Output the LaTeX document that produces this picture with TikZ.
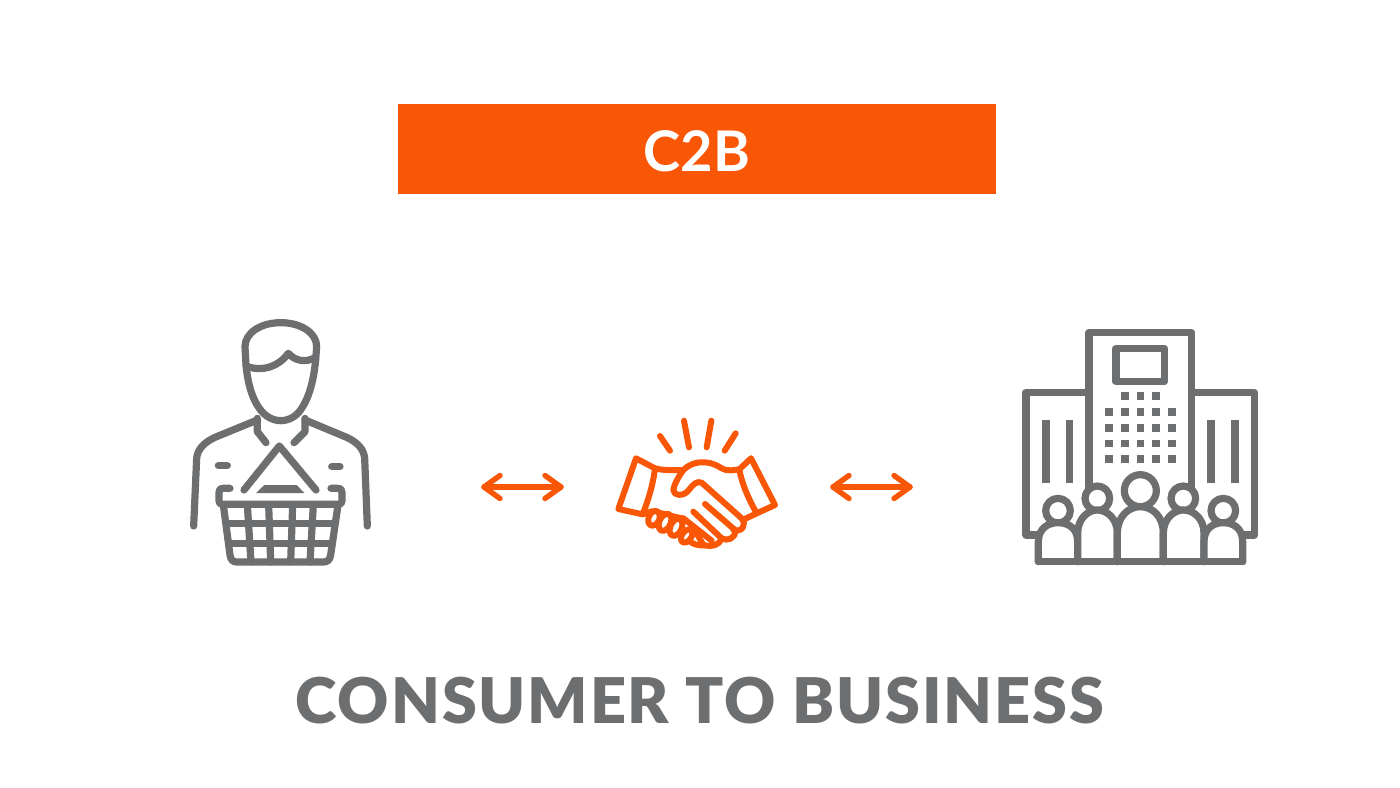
\documentclass[tikz,border=0pt]{standalone}
\usepackage{fontspec}
\setmainfont{Lato}
\newfontfamily\capfont{Lato Black}[LetterSpace=2.9]
\usetikzlibrary{arrows.meta}
\definecolor{brandorange}{HTML}{F95606}
\definecolor{icongray}{HTML}{6D6E70}
\tikzset{
  grayline/.style={draw=icongray,line width=7.2pt,line cap=round,line join=round},
  orangeline/.style={draw=brandorange,line width=6pt,line cap=round,line join=round},
  twoway/.style={draw=brandorange,line width=5.4pt,line cap=round,line join=round},
  zoomed/.style={x=0.33333pt,y=-0.33333pt}
}
\begin{document}
\begin{tikzpicture}[x=1pt,y=-1pt]
\useasboundingbox (0,0) rectangle (1400,787);
\fill[white] (0,0) rectangle (1400,787);
% banner
\node[fill=brandorange,minimum width=598pt,minimum height=90pt,inner sep=0pt,anchor=north west] (banner) at (398,104) {};
\node[text=white,font=\fontsize{56}{56}\selectfont\bfseries] (bannertext) at (697,151) {C2B};
\node[text=icongray,font=\fontsize{63}{63}\selectfont\capfont] (caption) at (700,701) {CONSUMER TO BUSINESS};
% consumer
\begin{scope}[shift={(170,310)},zoomed]
\draw[grayline] (228,165) -- (225,110) .. controls (225,70) and (270,38) .. (332,38) .. controls (395,38) and (440,70) .. (440,110) -- (437,150);
\draw[grayline] (232,170) .. controls (280,185) and (325,170) .. (355,130) .. controls (375,152) and (405,160) .. (437,142);
\draw[grayline] (228,165) .. controls (234,230) and (250,270) .. (268,295) .. controls (285,320) and (310,332) .. (332,332) .. controls (355,332) and (380,320) .. (395,295) .. controls (415,265) and (430,220) .. (437,150);
\draw[grayline] (262,325) -- (262,365) -- (288,398);
\draw[grayline] (405,325) -- (405,365) -- (372,398);
\draw[grayline] (262,330) -- (135,382) .. controls (100,398) and (82,420) .. (80,445) -- (71,648);
\draw[grayline] (405,330) -- (530,382) .. controls (565,398) and (582,420) .. (584,445) -- (592,648);
\draw[grayline] (145,467) -- (172,467);
\draw[grayline] (485,470) -- (510,470);
\draw[grayline] (222,540) -- (328,408) -- (438,540);
\fill[icongray] (258,549) -- (283,525) -- (380,525) -- (403,549) -- cycle;
\draw[grayline] (180,535) -- (160,535) .. controls (150,535) and (147,540) .. (147,548) -- (147,572) .. controls (147,580) and (150,583) .. (158,583) -- (505,583) .. controls (513,583) and (516,580) .. (516,572) -- (516,548) .. controls (516,540) and (513,535) .. (503,535) -- (483,535);
\draw[grayline] (160,585) -- (180,735) .. controls (182,750) and (190,756) .. (200,756) -- (460,756) .. controls (472,756) and (480,750) .. (482,735) -- (504,585);
\draw[grayline] (232,585) -- (243,756);
\draw[grayline] (296,585) -- (302,756);
\draw[grayline] (368,585) -- (362,756);
\draw[grayline] (430,585) -- (420,756);
\draw[grayline] (170,640) -- (494,640);
\draw[grayline] (178,700) -- (486,700);
\end{scope}
% arrows
\coordinate (leftA) at (484,487);
\coordinate (leftB) at (561,487);
\coordinate (rightA) at (833,487);
\coordinate (rightB) at (910,487);
\draw[twoway] (leftA) -- (leftB);
\draw[twoway] (rightA) -- (rightB);
\foreach \tipname/\dir in {leftA/1,rightA/1,leftB/-1,rightB/-1}
  \draw[twoway] ([shift={(\dir*16,-11.5)}]\tipname) -- (\tipname) -- ([shift={(\dir*16,11.5)}]\tipname);
% handshake
\begin{scope}[shift={(470,410)},zoomed]
\draw[orangeline] (570,78) -- (600,122);
\draw[orangeline] (642,32) -- (657,112);
\draw[orangeline] (724,32) -- (710,112);
\draw[orangeline] (797,70) -- (764,122);
\draw[orangeline] (498,145) -- (445,297) -- (518,313) .. controls (535,270) and (550,220) .. (555,175) -- (498,145);
\draw[orangeline] (843,145) -- (915,285) -- (860,310) .. controls (835,265) and (815,220) .. (808,178) -- (843,145);
\draw[orangeline] (555,175) .. controls (580,182) and (610,180) .. (640,180) .. controls (665,155) and (710,145) .. (755,175) .. controls (775,185) and (790,180) .. (808,178);
\draw[orangeline] (640,180) .. controls (625,200) and (612,225) .. (610,240) .. controls (610,258) and (640,260) .. (655,242) .. controls (670,222) and (680,212) .. (695,218) -- (815,325) .. controls (832,345) and (815,368) .. (790,360);
\draw[orangeline] (705,282) -- (795,360) .. controls (800,385) and (770,395) .. (755,385) -- (670,305);
\draw[orangeline] (755,385) .. controls (750,405) and (725,412) .. (700,405) -- (680,370);
\draw[orangeline] (818,330) -- (860,310);
\draw[orangeline] (518,313) -- (545,304) .. controls (575,308) and (610,322) .. (640,325) -- (725,392);
\draw[orangeline] (655,390) .. controls (665,402) and (685,408) .. (705,406);
\draw[orangeline,fill=white] (650,378) ellipse [x radius=14,y radius=22,rotate=-35];
\draw[orangeline,fill=white] (618,352) ellipse [x radius=17,y radius=27,rotate=-25];
\draw[orangeline,fill=white] (585,337) ellipse [x radius=17,y radius=27,rotate=-25];
\draw[orangeline,fill=white] (552,325) ellipse [x radius=16,y radius=23,rotate=-25];
\end{scope}
% business
\begin{scope}[shift={(1010,320)},zoomed]
\draw[grayline] (237,500) -- (237,38) -- (545,38) -- (545,500);
\draw[grayline] (237,217) -- (48,217) -- (48,645) -- (85,645);
\draw[grayline] (545,217) -- (733,217) -- (733,645) -- (700,645);
\draw[grayline] (318,85) rectangle (463,185);
\foreach \y in {228} \foreach \x in {344,391,438} \fill[icongray] (\x-11.5,\y-11.5) rectangle (\x+11.5,\y+11.5);
\foreach \y in {276,323,370,417} \foreach \x in {296,344,391,438,486} \fill[icongray] (\x-11.5,\y-11.5) rectangle (\x+11.5,\y+11.5);
\fill[icongray] (97,300) rectangle (120,490);
\fill[icongray] (167,300) rectangle (190,490);
\fill[icongray] (592,300) rectangle (615,490);
\fill[icongray] (663,300) rectangle (686,490);
\draw[grayline,fill=white] (391,512) circle (48);
\draw[grayline,fill=white] (262,535) circle (37);
\draw[grayline,fill=white] (520,535) circle (37);
\draw[grayline,fill=white] (144,572) circle (37);
\draw[grayline,fill=white] (640,572) circle (37);
\draw[grayline,fill=white] (85,725) -- (85,665) .. controls (85,625) and (115,608) .. (144,608) .. controls (175,608) and (203,625) .. (203,665) -- (203,725);
\draw[grayline,fill=white] (203,725) -- (203,640) .. controls (203,595) and (235,570) .. (262,570) .. controls (290,570) and (322,595) .. (322,640) -- (322,725);
\draw[grayline,fill=white] (322,725) -- (322,640) .. controls (322,590) and (355,560) .. (391,560) .. controls (428,560) and (460,590) .. (460,640) -- (460,725);
\draw[grayline,fill=white] (460,725) -- (460,640) .. controls (460,595) and (492,570) .. (520,570) .. controls (550,570) and (582,595) .. (582,640) -- (582,725);
\draw[grayline,fill=white] (582,725) -- (582,665) .. controls (582,625) and (610,608) .. (640,608) .. controls (670,608) and (698,625) .. (698,665) -- (698,725);
\draw[grayline] (85,725) -- (698,725);
\end{scope}
\end{tikzpicture}
\end{document}
